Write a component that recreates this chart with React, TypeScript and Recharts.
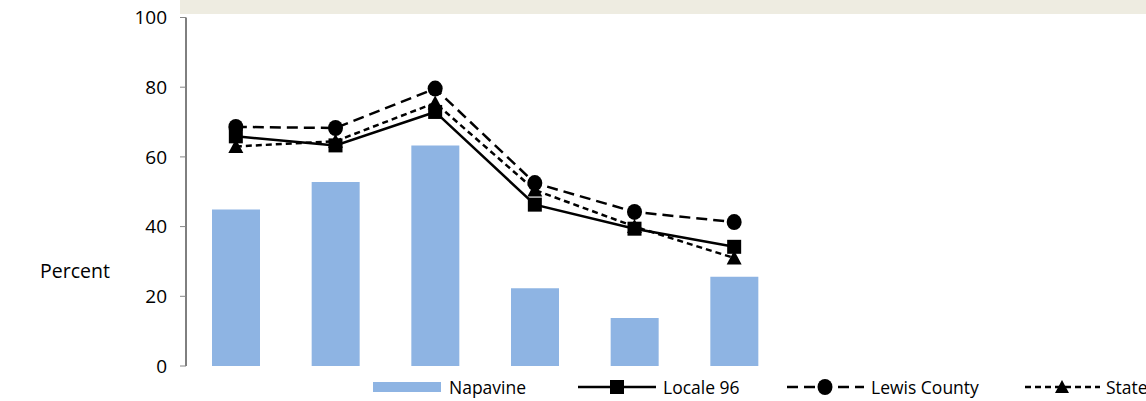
import React from 'react';
import { ComposedChart, Bar, Line, XAxis, YAxis } from 'recharts';

const categories = ['1', '2', '3', '4', '5', '6'];
const napavine = [44.9, 52.8, 63.3, 22.3, 13.8, 25.6];
const locale96 = [65.9, 63.3, 72.9, 46.3, 39.4, 34.2];
const lewisCounty = [68.6, 68.3, 79.6, 52.5, 44.2, 41.3];
const state = [63.0, 64.5, 75.5, 50.5, 40.0, 31.0];
const yTicks = [0, 20, 40, 60, 80, 100];

const data = categories.map((c, i) => ({
  name: c,
  napavine: napavine[i],
  locale96: locale96[i],
  lewis: lewisCounty[i],
  state: state[i],
}));

const FONT = '"Open Sans", sans-serif';
const BAR = '#8EB4E3';

const SquareDot = (props: any) => {
  const { cx, cy } = props;
  if (cx == null || cy == null) return null;
  return <rect x={cx - 7} y={cy - 7} width={14} height={14} fill="#000" />;
};
const CircleDot = (props: any) => {
  const { cx, cy } = props;
  if (cx == null || cy == null) return null;
  return <ellipse cx={cx} cy={cy} rx={7.5} ry={8} fill="#000" />;
};
const TriangleDot = (props: any) => {
  const { cx, cy } = props;
  if (cx == null || cy == null) return null;
  return <path d={`M${cx},${cy - 7.5} L${cx + 7.5},${cy + 6.5} L${cx - 7.5},${cy + 6.5} Z`} fill="#000" />;
};

const legendText: React.CSSProperties = {
  position: 'absolute',
  top: 376,
  fontFamily: FONT,
  fontSize: 17.5,
  lineHeight: '22px',
  color: '#000',
  whiteSpace: 'nowrap',
};

export default function App() {
  return (
    <div style={{ position: 'absolute', left: 0, top: 0, width: 1146, height: 401, overflow: 'hidden', background: '#fff' }}>
      <div style={{ position: 'absolute', left: 180, top: 0, width: 966, height: 14, background: '#EEECE1' }} />
      <ComposedChart
        width={1146}
        height={401}
        data={data}
        margin={{ top: 17.5, right: 362, bottom: 35, left: 0 }}
        style={{ position: 'absolute', left: 0, top: 0 }}
      >
        <XAxis dataKey="name" hide />
        <YAxis
          width={186}
          domain={[0, 100]}
          ticks={yTicks}
          interval={0}
          tickSize={6}
          tickMargin={13}
          axisLine={{ stroke: '#000', strokeWidth: 1 }}
          tickLine={{ stroke: '#868686', strokeWidth: 1 }}
          tick={{ fill: '#000', fontSize: 19, fontFamily: FONT }}
          label={{
            content: () => (
              <text x={40} y={270} fontFamily={FONT} fontSize={19.5} fill="#000" dominantBaseline="central">
                Percent
              </text>
            ),
          }}
        />
        <Bar dataKey="napavine" fill={BAR} barSize={48} isAnimationActive={false} />
        <Line dataKey="lewis" stroke="#000" strokeWidth={2.5} strokeDasharray="11 6" dot={<CircleDot />} activeDot={false} isAnimationActive={false} />
        <Line dataKey="state" stroke="#000" strokeWidth={2.5} strokeDasharray="6 4" dot={<TriangleDot />} activeDot={false} isAnimationActive={false} />
        <Line dataKey="locale96" stroke="#000" strokeWidth={2.5} dot={<SquareDot />} activeDot={false} isAnimationActive={false} />
      </ComposedChart>

      <div style={{ position: 'absolute', left: 373, top: 382, width: 68, height: 10, background: BAR }} />
      <div style={{ ...legendText, left: 449 }}>Napavine</div>

      <svg style={{ position: 'absolute', left: 578, top: 377 }} width={78} height={20}>
        <line x1={0} y1={10} x2={78} y2={10} stroke="#000" strokeWidth={2.5} />
        <rect x={32} y={3} width={14} height={14} fill="#000" />
      </svg>
      <div style={{ ...legendText, left: 663 }}>Locale 96</div>

      <svg style={{ position: 'absolute', left: 787, top: 377 }} width={77} height={20}>
        <line x1={0} y1={10} x2={77} y2={10} stroke="#000" strokeWidth={2.5} strokeDasharray="11 6" />
        <ellipse cx={38} cy={10} rx={7.5} ry={8} fill="#000" />
      </svg>
      <div style={{ ...legendText, left: 871 }}>Lewis County</div>

      <svg style={{ position: 'absolute', left: 1025, top: 377 }} width={75} height={20}>
        <line x1={0} y1={10} x2={75} y2={10} stroke="#000" strokeWidth={2.5} strokeDasharray="6 4" />
        <path d="M37,3 L44,16 L30,16 Z" fill="#000" />
      </svg>
      <div style={{ ...legendText, left: 1106 }}>State</div>
    </div>
  );
}
